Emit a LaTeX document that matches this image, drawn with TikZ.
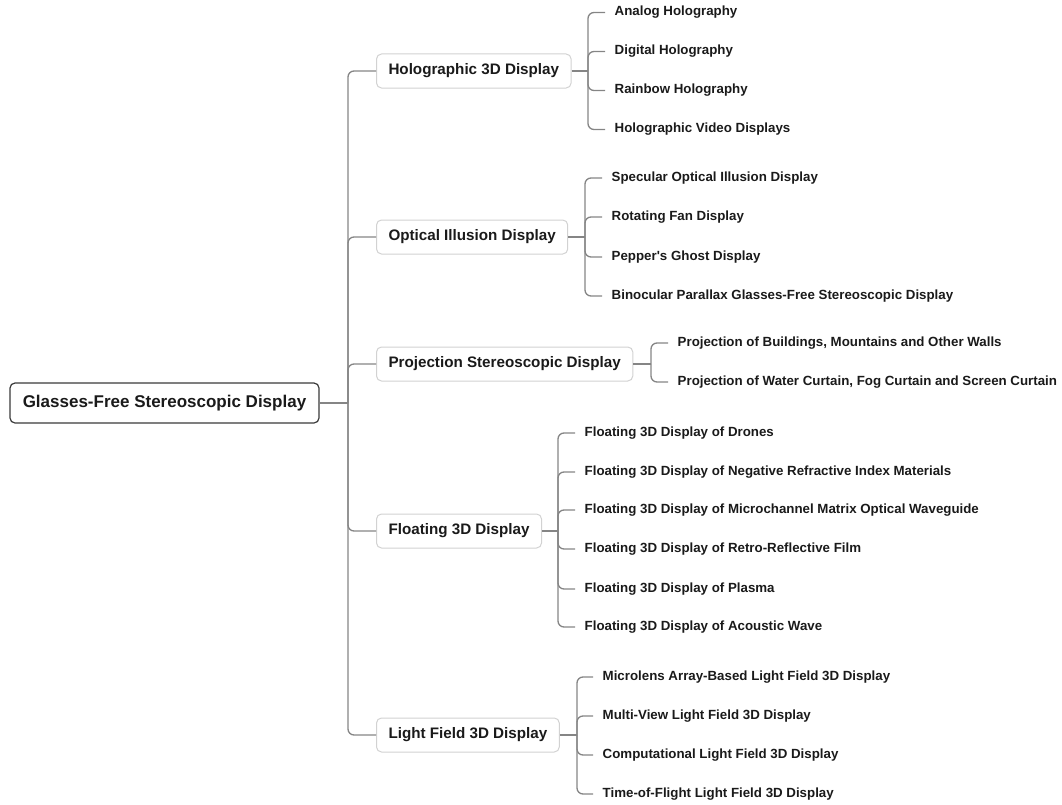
\documentclass[tikz,border=0pt]{standalone}
\usepackage{fontspec}
\setmainfont{Liberation Sans}
\usepackage{xcolor}
\usepackage{tikz}
\usetikzlibrary{positioning,calc}
\definecolor{InkDark}{HTML}{1A1A1A}
\definecolor{RootEdge}{HTML}{3A3A3A}
\definecolor{SoftEdge}{HTML}{D2D2D2}
\definecolor{LineGray}{HTML}{858585}

\begin{document}
\begin{tikzpicture}[
    x=1bp, y=-1bp,
    text=InkDark,
    rootbox/.style={draw=RootEdge, line width=1.2bp, rounded corners=5bp, fill=white, inner xsep=12bp, minimum height=40bp, font=\fontsize{17bp}{20bp}\selectfont\bfseries},
    topic/.style={draw=SoftEdge, line width=1bp, rounded corners=5bp, fill=white, anchor=west, inner xsep=12bp, minimum height=34bp, font=\fontsize{15.2bp}{18bp}\selectfont\bfseries},
    leaf/.style={anchor=west, inner xsep=9.5bp, inner ysep=2bp, font=\fontsize{13.3bp}{15bp}\selectfont\bfseries},
    conn/.style={draw=LineGray, line width=1.3bp, rounded corners=6bp}
]
\useasboundingbox (0,0) rectangle (1062,805);

% root and first level
\node[rootbox, minimum width=309bp] (root) at (164.5,403) {Glasses-Free Stereoscopic Display};
\node[topic] (holo) at (376,71) {Holographic 3D Display};
\node[topic] (illusion) at (376,237) {Optical Illusion Display};
\node[topic] (proj) at (376,364) {Projection Stereoscopic Display};
\node[topic] (floating) at (376,531) {Floating 3D Display};
\node[topic] (lightfield) at (376,735) {Light Field 3D Display};

% leaves: holography
\node[leaf] (analog) at (605,12.5) {Analog Holography};
\node[leaf] (digital) at (605,51.5) {Digital Holography};
\node[leaf] (rainbow) at (605,90.5) {Rainbow Holography};
\node[leaf] (video) at (605,129.5) {Holographic Video Displays};

% leaves: optical illusion
\node[leaf] (specular) at (602,178) {Specular Optical Illusion Display};
\node[leaf] (fan) at (602,217) {Rotating Fan Display};
\node[leaf] (ghost) at (602,257) {Pepper\textquotesingle s Ghost Display};
\node[leaf] (binocular) at (602,296) {Binocular Parallax Glasses-Free Stereoscopic Display};

% leaves: projection
\node[leaf] (buildings) at (668,343) {Projection of Buildings, Mountains and Other Walls};
\node[leaf] (water) at (668,382) {Projection of Water Curtain, Fog Curtain and Screen Curtain};

% leaves: floating
\node[leaf] (drones) at (575,433) {Floating 3D Display of Drones};
\node[leaf] (negindex) at (575,472) {Floating 3D Display of Negative Refractive Index Materials};
\node[leaf] (microch) at (575,510) {Floating 3D Display of Microchannel Matrix Optical Waveguide};
\node[leaf] (retro) at (575,549) {Floating 3D Display of Retro-Reflective Film};
\node[leaf] (plasma) at (575,589) {Floating 3D Display of Plasma};
\node[leaf] (acoustic) at (575,627) {Floating 3D Display of Acoustic Wave};

% leaves: light field
\node[leaf] (microlens) at (593,677) {Microlens Array-Based Light Field 3D Display};
\node[leaf] (multiview) at (593,716) {Multi-View Light Field 3D Display};
\node[leaf] (computational) at (593,755) {Computational Light Field 3D Display};
\node[leaf] (tof) at (593,794) {Time-of-Flight Light Field 3D Display};

% fork points
\coordinate (trunk) at (348,403);
\coordinate (holo-fork) at (588,71);
\coordinate (illusion-fork) at (585,237);
\coordinate (proj-fork) at (651,364);
\coordinate (floating-fork) at (558,531);
\coordinate (lightfield-fork) at (577,735);

% trunk to first level
\draw[conn] (root.east) -- (trunk);
\draw[conn] (trunk) |- (holo.west);
\draw[conn] (trunk) |- (illusion.west);
\draw[conn] (trunk) |- (proj.west);
\draw[conn] (trunk) |- (floating.west);
\draw[conn] (trunk) |- (lightfield.west);

% first level to leaves
\draw[conn] (holo.east) -- (holo-fork);
\draw[conn] (holo-fork) |- (analog.west);
\draw[conn] (holo-fork) |- (digital.west);
\draw[conn] (holo-fork) |- (rainbow.west);
\draw[conn] (holo-fork) |- (video.west);

\draw[conn] (illusion.east) -- (illusion-fork);
\draw[conn] (illusion-fork) |- (specular.west);
\draw[conn] (illusion-fork) |- (fan.west);
\draw[conn] (illusion-fork) |- (ghost.west);
\draw[conn] (illusion-fork) |- (binocular.west);

\draw[conn] (proj.east) -- (proj-fork);
\draw[conn] (proj-fork) |- (buildings.west);
\draw[conn] (proj-fork) |- (water.west);

\draw[conn] (floating.east) -- (floating-fork);
\draw[conn] (floating-fork) |- (drones.west);
\draw[conn] (floating-fork) |- (negindex.west);
\draw[conn] (floating-fork) |- (microch.west);
\draw[conn] (floating-fork) |- (retro.west);
\draw[conn] (floating-fork) |- (plasma.west);
\draw[conn] (floating-fork) |- (acoustic.west);

\draw[conn] (lightfield.east) -- (lightfield-fork);
\draw[conn] (lightfield-fork) |- (microlens.west);
\draw[conn] (lightfield-fork) |- (multiview.west);
\draw[conn] (lightfield-fork) |- (computational.west);
\draw[conn] (lightfield-fork) |- (tof.west);
\end{tikzpicture}
\end{document}
